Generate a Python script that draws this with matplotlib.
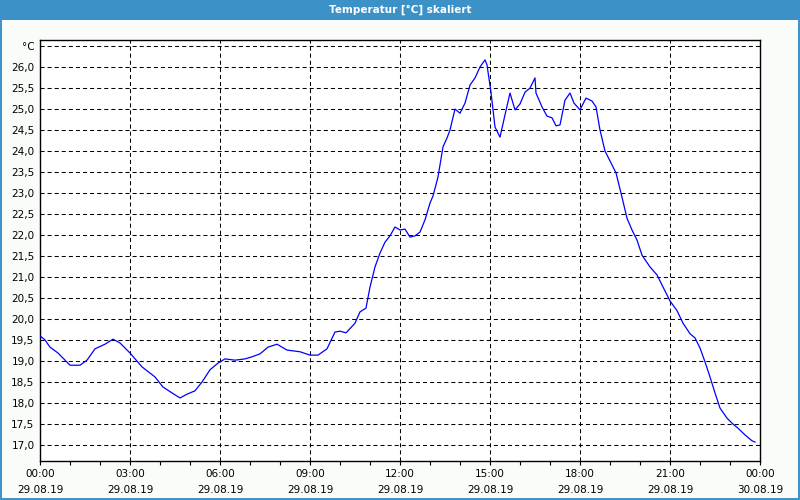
import matplotlib
matplotlib.use("Agg")
import matplotlib.pyplot as plt
from matplotlib.patches import Rectangle
from matplotlib.ticker import FixedLocator, MultipleLocator

title = "Temperatur [°C] skaliert"

# minutes since 29.08.19 00:00
minutes = [0, 10, 20, 36, 60, 80, 94, 110, 130, 146, 160, 180, 204, 230, 246,
           264, 280, 294, 310, 324, 340, 356, 370, 390, 410, 424, 440, 456, 474,
           494, 520, 540, 556, 574, 590, 600, 612, 630, 640, 652, 660, 670, 680,
           690, 700, 710, 720, 730, 740, 750, 760, 770, 780, 786, 796, 806, 814,
           820, 830, 840, 850, 860, 870, 880, 890, 894, 902, 910, 920, 930, 940,
           950, 960, 970, 980, 990, 992, 1004, 1014, 1024, 1032, 1040, 1050, 1060,
           1068, 1080, 1092, 1104, 1112, 1120, 1130, 1146, 1152, 1164, 1174, 1184,
           1194, 1204, 1220, 1234, 1244, 1260, 1274, 1286, 1300, 1310, 1320, 1330,
           1340, 1350, 1360, 1374, 1384, 1396, 1410, 1424, 1430]
temps = [19.6, 19.5, 19.33, 19.19, 18.9, 18.9, 19.02, 19.29, 19.4, 19.52, 19.43,
         19.19, 18.86, 18.62, 18.38, 18.24, 18.12, 18.21, 18.29, 18.5, 18.79,
         18.95, 19.05, 19.02, 19.05, 19.1, 19.17, 19.33, 19.4, 19.26, 19.22,
         19.14, 19.14, 19.29, 19.69, 19.71, 19.67, 19.9, 20.17, 20.26, 20.76,
         21.24, 21.57, 21.83, 21.98, 22.19, 22.12, 22.14, 21.95, 21.98, 22.07,
         22.36, 22.76, 22.93, 23.38, 24.1, 24.31, 24.5, 25.0, 24.9, 25.14, 25.57,
         25.74, 26.0, 26.17, 26.05, 25.4, 24.57, 24.33, 24.86, 25.38, 24.98, 25.12,
         25.4, 25.5, 25.74, 25.38, 25.05, 24.83, 24.79, 24.6, 24.62, 25.21, 25.38,
         25.14, 24.98, 25.26, 25.19, 25.05, 24.5, 24.0, 23.62, 23.48, 22.9, 22.4,
         22.12, 21.88, 21.52, 21.24, 21.05, 20.81, 20.43, 20.2, 19.9, 19.65, 19.55,
         19.31, 18.98, 18.62, 18.24, 17.88, 17.64, 17.52, 17.4, 17.24, 17.1, 17.07]

x_tick_pos = [0, 180, 360, 540, 720, 900, 1080, 1260, 1440]
x_tick_labels = ["00:00\n29.08.19", "03:00\n29.08.19", "06:00\n29.08.19",
                 "09:00\n29.08.19", "12:00\n29.08.19", "15:00\n29.08.19",
                 "18:00\n29.08.19", "21:00\n29.08.19", "00:00\n30.08.19"]
y_tick_pos = [17.0, 17.5, 18.0, 18.5, 19.0, 19.5, 20.0, 20.5, 21.0, 21.5, 22.0,
              22.5, 23.0, 23.5, 24.0, 24.5, 25.0, 25.5, 26.0, 26.5]
y_tick_labels = ["17,0", "17,5", "18,0", "18,5", "19,0", "19,5", "20,0", "20,5",
                 "21,0", "21,5", "22,0", "22,5", "23,0", "23,5", "24,0", "24,5",
                 "25,0", "25,5", "26,0", "°C"]

plt.rcParams['font.family'] = ['DejaVu Sans']
fig = plt.figure(figsize=(8, 5), dpi=100, facecolor='#FAFCFA')

# title bar
fig.patches.append(Rectangle((0, 1 - 20 / 500), 1, 20 / 500, transform=fig.transFigure,
                             facecolor='#3C91C7', edgecolor='none', zorder=0))
fig.text(0.5, 1 - 10 / 500, title, ha='center', va='center', color='white',
         fontsize=7.5, fontweight='bold')
# blue border
fig.patches.append(Rectangle((0.0008, 0.0015), 0.9984, 1 - 20 / 500, transform=fig.transFigure,
                             facecolor='none', edgecolor='#3C91C7', linewidth=1.4, zorder=0))

ax = fig.add_axes([40 / 800, 1 - 461 / 500, 720 / 800, 421 / 500])
ax.set_facecolor('white')
ax.plot(minutes, temps, color='#0000FF', linewidth=0.9, zorder=3)

ax.set_xlim(0, 1440)
ax.set_ylim(17 + (445 - 461) / 42, 17 + (445 - 40) / 42)

ax.xaxis.set_major_locator(FixedLocator(x_tick_pos))
ax.set_xticklabels(x_tick_labels, fontsize=7.5, linespacing=1.85)
ax.xaxis.set_minor_locator(MultipleLocator(60))
ax.tick_params(axis='x', which='both', direction='out', length=3, width=0.8,
               pad=2.5, color='black')
ax.yaxis.set_major_locator(FixedLocator(y_tick_pos))
ax.set_yticklabels(y_tick_labels, fontsize=7.5)
ax.tick_params(axis='y', which='both', length=0, pad=4)

for lab in ax.get_xticklabels() + ax.get_yticklabels():
    lab.set_color('black')

ax.grid(True, which='major', color='black', linewidth=0.75,
        linestyle=(0, (3.9, 2.9)), zorder=1)

for s in ax.spines.values():
    s.set_color('black')
    s.set_linewidth(1.0)

fig.savefig('out.png', dpi=100, facecolor=fig.get_facecolor())
